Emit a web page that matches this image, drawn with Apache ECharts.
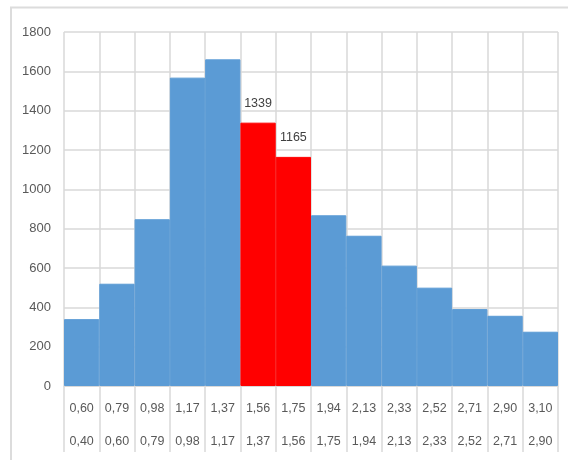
<!DOCTYPE html>
<html>
<head>
<meta charset="utf-8">
<script src="https://cdn.jsdelivr.net/npm/echarts@6/dist/echarts.min.js"></script>
<style>
  html, body { margin: 0; padding: 0; background: #fff; }
  #chart { width: 568px; height: 460px; }
</style>
</head>
<body>
<div id="chart"></div>
<script>
// Class bounds of the histogram (upper / lower edge of each bin)
const upperBounds = ['0,60', '0,79', '0,98', '1,17', '1,37', '1,56', '1,75', '1,94', '2,13', '2,33', '2,52', '2,71', '2,90', '3,10'];
const lowerBounds = ['0,40', '0,60', '0,79', '0,98', '1,17', '1,37', '1,56', '1,75', '1,94', '2,13', '2,33', '2,52', '2,71', '2,90'];
// Frequency per bin
const counts = [340, 520, 848, 1568, 1661, 1339, 1165, 868, 764, 612, 500, 391, 357, 276];
// Bins drawn in red with their value shown
const highlighted = [5, 6];

const yMin = 0, yMax = 1800, yStep = 200;

const blue = '#5b9bd5';
const red = '#ff0000';
const gridGray = '#d9d9d9';
const textGray = '#595959';
const font = 'Liberation Sans, Arial, sans-serif';

const categories = upperBounds.map((u, i) => u + '\n' + lowerBounds[i]);

const barData = counts.map((v, i) => {
  const hi = highlighted.includes(i);
  const c = hi ? red : blue;
  return {
    value: v,
    itemStyle: { color: c, borderColor: c, borderWidth: 1 },
    label: { show: hi }
  };
});

const chart = echarts.init(document.getElementById('chart'), null, { renderer: 'canvas' });
chart.setOption({
  animation: false,
  backgroundColor: '#fff',
  graphic: [{
    type: 'rect',
    shape: { x: 11, y: 7.5, width: 620, height: 520 },
    style: { fill: 'none', stroke: '#dcdcdc', lineWidth: 2 },
    silent: true,
    z: -1
  }],
  grid: { left: 64, right: 10, top: 32, bottom: 74, containLabel: false },
  xAxis: {
    type: 'category',
    data: categories,
    boundaryGap: true,
    z: 0,
    axisLine: { show: true, lineStyle: { color: gridGray, width: 1 } },
    axisTick: { show: true, interval: 0, length: 66, lineStyle: { color: gridGray, width: 1.5 } },
    splitLine: { show: true, interval: 0, lineStyle: { color: gridGray, width: 1.5 } },
    axisLabel: {
      interval: 0,
      color: textGray,
      fontFamily: font,
      fontSize: 12.5,
      lineHeight: 33,
      margin: 6
    }
  },
  yAxis: {
    type: 'value',
    min: yMin,
    max: yMax,
    interval: yStep,
    z: 0,
    axisLine: { show: false },
    axisTick: { show: false },
    splitLine: { show: true, lineStyle: { color: gridGray, width: 1.5 } },
    axisLabel: {
      color: textGray,
      fontFamily: font,
      fontSize: 13,
      margin: 13,
      formatter: (v) => String(v)
    }
  },
  series: [{
    type: 'bar',
    z: 10,
    data: barData,
    barWidth: '100%',
    barCategoryGap: 0,
    label: {
      show: false,
      position: 'top',
      distance: 13,
      color: '#404040',
      fontFamily: font,
      fontSize: 12.5
    }
  }]
});
</script>
</body>
</html>
